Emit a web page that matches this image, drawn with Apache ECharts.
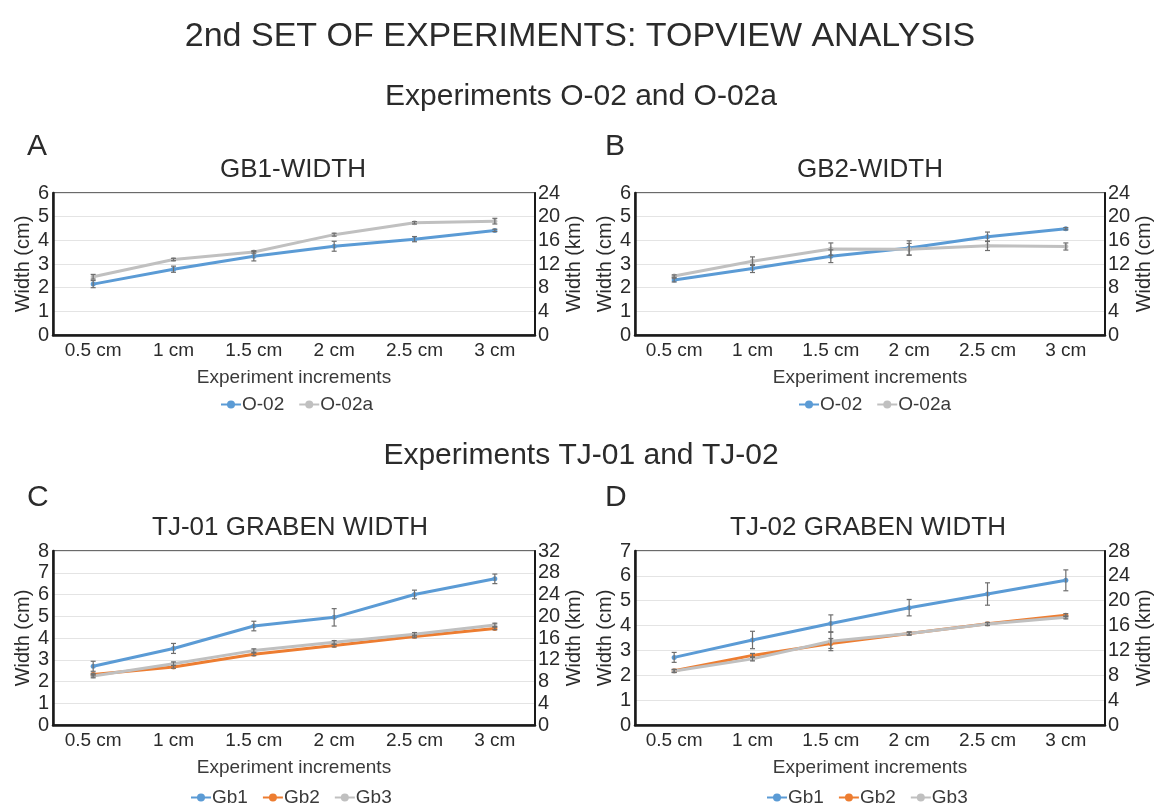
<!DOCTYPE html>
<html>
<head>
<meta charset="utf-8">
<script src="https://cdn.jsdelivr.net/npm/echarts@6/dist/echarts.min.js"></script>
<style>
  html, body { margin: 0; padding: 0; background: #ffffff; }
  #chart { width: 1160px; height: 809px; }
</style>
</head>
<body>
<div id="chart"></div>
<script>
// Experiment increments (x categories shared by all four panels)
const increments = ['0.5 cm', '1 cm', '1.5 cm', '2 cm', '2.5 cm', '3 cm'];

// Panel A: GB1 width (cm)
const aO02 = [2.15, 2.78, 3.33, 3.75, 4.05, 4.42];
const aO02a = [2.46, 3.19, 3.51, 4.24, 4.74, 4.81];
const aO02Err = [0.15, 0.13, 0.2, 0.21, 0.11, 0.05];
const aO02aErr = [0.1, 0.05, 0.05, 0.06, 0.05, 0.12];

// Panel B: GB2 width (cm)
const bO02 = [2.32, 2.81, 3.33, 3.68, 4.15, 4.49];
const bO02a = [2.49, 3.12, 3.63, 3.62, 3.77, 3.74];
const bO02Err = [0.08, 0.17, 0.27, 0.3, 0.2, 0.05];
const bO02aErr = [0.05, 0.18, 0.26, 0.25, 0.2, 0.15];

// Panel C: TJ-01 graben width (cm)
const cGb1 = [2.7, 3.52, 4.55, 4.95, 6.0, 6.72];
const cGb2 = [2.32, 2.67, 3.25, 3.65, 4.07, 4.44];
const cGb3 = [2.25, 2.82, 3.42, 3.8, 4.17, 4.6];
const cGb1Err = [0.23, 0.23, 0.22, 0.4, 0.2, 0.22];
const cGb2Err = [0.06, 0.06, 0.06, 0.06, 0.06, 0.06];
const cGb3Err = [0.08, 0.08, 0.08, 0.08, 0.08, 0.08];

// Panel D: TJ-02 graben width (cm)
const dGb1 = [2.72, 3.42, 4.08, 4.72, 5.27, 5.82];
const dGb2 = [2.18, 2.8, 3.28, 3.68, 4.07, 4.42];
const dGb3 = [2.17, 2.66, 3.37, 3.68, 4.06, 4.33];
const dGb1Err = [0.2, 0.35, 0.35, 0.33, 0.45, 0.42];
const dGb2Err = [0.06, 0.08, 0.2, 0.06, 0.06, 0.06];
const dGb3Err = [0.06, 0.08, 0.38, 0.06, 0.06, 0.06];

// Left (cm) and right (km) tick ranges per panel
const cmMax = [6, 6, 8, 7];
const kmMax = [24, 24, 32, 28];
const rightNames = ['Width (km)', 'Width (cm)', 'Width (km)', 'Width (km)'];

const BLUE = '#5b9bd5', ORANGE = '#ed7d31', GREY = '#c0c0c0';
const FONT = '"Liberation Sans", Arial, sans-serif';
const TXT = '#2b2b2b';

const grids = [
  { left: 53, top: 193, width: 482, height: 142 },
  { left: 635, top: 193, width: 470, height: 142 },
  { left: 53, top: 551, width: 482, height: 174 },
  { left: 635, top: 551, width: 470, height: 174 }
].map(g => Object.assign({ show: true, borderColor: '#3a3a3a', borderWidth: 1.5, backgroundColor: '#ffffff' }, g));

const xAxes = grids.map((g, i) => ({
  type: 'category', gridIndex: i, data: increments, boundaryGap: true,
  axisLine: { lineStyle: { color: '#1a1a1a', width: 2.5 } },
  axisTick: { show: false },
  axisLabel: { color: TXT, fontSize: 19, fontFamily: FONT, margin: 6 },
  name: 'Experiment increments', nameLocation: 'middle', nameGap: 33,
  nameTextStyle: { color: '#3a3a3a', fontSize: 19, fontFamily: FONT }
}));

const yAxes = [];
grids.forEach((g, i) => {
  const rightGap = i % 2 === 0 ? 24 : 28;
  yAxes.push({
    type: 'value', gridIndex: i, position: 'left', min: 0, max: cmMax[i], interval: 1,
    axisLine: { show: true, lineStyle: { color: '#1a1a1a', width: 2.5 } },
    axisTick: { show: false },
    splitLine: { lineStyle: { color: '#e4e4e4', width: 1 } },
    axisLabel: { color: TXT, fontSize: 20, fontFamily: FONT, margin: 4 },
    name: 'Width (cm)', nameLocation: 'middle', nameRotate: 90, nameGap: 19,
    nameTextStyle: { color: TXT, fontSize: 20, fontFamily: FONT }
  });
  yAxes.push({
    type: 'value', gridIndex: i, position: 'right', min: 0, max: kmMax[i], interval: 4,
    axisLine: { show: true, lineStyle: { color: '#1a1a1a', width: 2 } },
    axisTick: { show: false },
    splitLine: { show: false },
    axisLabel: { color: TXT, fontSize: 20, fontFamily: FONT, margin: 3 },
    name: rightNames[i], nameLocation: 'middle', nameRotate: 90, nameGap: rightGap,
    nameTextStyle: { color: TXT, fontSize: 20, fontFamily: FONT }
  });
});

function lineSeries(name, data, color, gi) {
  return {
    type: 'line', name, data, xAxisIndex: gi, yAxisIndex: gi * 2, z: 3,
    symbol: 'circle', symbolSize: 5, showSymbol: true,
    lineStyle: { color, width: 3 }, itemStyle: { color },
    emphasis: { disabled: true }
  };
}

function errorSeries(values, errs, gi) {
  const data = values.map((v, k) => [k, v - errs[k], v + errs[k]]);
  return {
    type: 'custom', xAxisIndex: gi, yAxisIndex: gi * 2, z: 4, silent: true,
    data,
    renderItem(params, api) {
      const lo = api.coord([api.value(0), api.value(1)]);
      const hi = api.coord([api.value(0), api.value(2)]);
      const cap = 2.5;
      const st = { stroke: '#6e6e6e', lineWidth: 1.2 };
      return {
        type: 'group',
        children: [
          { type: 'line', shape: { x1: lo[0], y1: lo[1], x2: hi[0], y2: hi[1] }, style: st },
          { type: 'line', shape: { x1: lo[0] - cap, y1: lo[1], x2: lo[0] + cap, y2: lo[1] }, style: st },
          { type: 'line', shape: { x1: hi[0] - cap, y1: hi[1], x2: hi[0] + cap, y2: hi[1] }, style: st }
        ]
      };
    }
  };
}

const series = [
  lineSeries('O-02', aO02, BLUE, 0), lineSeries('O-02a', aO02a, GREY, 0),
  errorSeries(aO02, aO02Err, 0), errorSeries(aO02a, aO02aErr, 0),
  lineSeries('O-02', bO02, BLUE, 1), lineSeries('O-02a', bO02a, GREY, 1),
  errorSeries(bO02, bO02Err, 1), errorSeries(bO02a, bO02aErr, 1),
  lineSeries('Gb1', cGb1, BLUE, 2), lineSeries('Gb2', cGb2, ORANGE, 2), lineSeries('Gb3', cGb3, GREY, 2),
  errorSeries(cGb1, cGb1Err, 2), errorSeries(cGb2, cGb2Err, 2), errorSeries(cGb3, cGb3Err, 2),
  lineSeries('Gb1', dGb1, BLUE, 3), lineSeries('Gb2', dGb2, ORANGE, 3), lineSeries('Gb3', dGb3, GREY, 3),
  errorSeries(dGb1, dGb1Err, 3), errorSeries(dGb2, dGb2Err, 3), errorSeries(dGb3, dGb3Err, 3)
];

function legendAt(left, top, names) {
  return {
    left, top, data: names, itemWidth: 20, itemHeight: 10, itemGap: 14,
    selectedMode: false,
    textStyle: { color: '#3a3a3a', fontSize: 19, fontFamily: FONT, padding: [0, 0, 0, -4] }
  };
}

function label(text, x, y, size, align) {
  return {
    type: 'text', x, y, silent: true,
    style: {
      text, fill: TXT, font: size + 'px ' + FONT,
      align: align || 'center', verticalAlign: 'middle',
      textAlign: align || 'center', textVerticalAlign: 'middle'
    }
  };
}

const option = {
  backgroundColor: '#ffffff',
  animation: false,
  grid: grids,
  xAxis: xAxes,
  yAxis: yAxes,
  series,
  legend: [
    legendAt(215, 390, ['O-02', 'O-02a']),
    legendAt(793, 390, ['O-02', 'O-02a']),
    legendAt(185, 783, ['Gb1', 'Gb2', 'Gb3']),
    legendAt(761, 783, ['Gb1', 'Gb2', 'Gb3'])
  ],
  graphic: [
    label('2nd SET OF EXPERIMENTS: TOPVIEW ANALYSIS', 580, 37, 34),
    label('Experiments O-02 and O-02a', 581, 97, 30),
    label('Experiments TJ-01 and TJ-02', 581, 456, 30),
    label('A', 27, 147, 30, 'left'),
    label('B', 605, 147, 30, 'left'),
    label('C', 27, 498, 30, 'left'),
    label('D', 605, 498, 30, 'left'),
    label('GB1-WIDTH', 293, 170, 26),
    label('GB2-WIDTH', 870, 170, 26),
    label('TJ-01 GRABEN WIDTH', 290, 528, 26),
    label('TJ-02 GRABEN WIDTH', 868, 528, 26)
  ]
};

const chart = echarts.init(document.getElementById('chart'), null, { renderer: 'canvas' });
chart.setOption(option);
</script>
</body>
</html>
